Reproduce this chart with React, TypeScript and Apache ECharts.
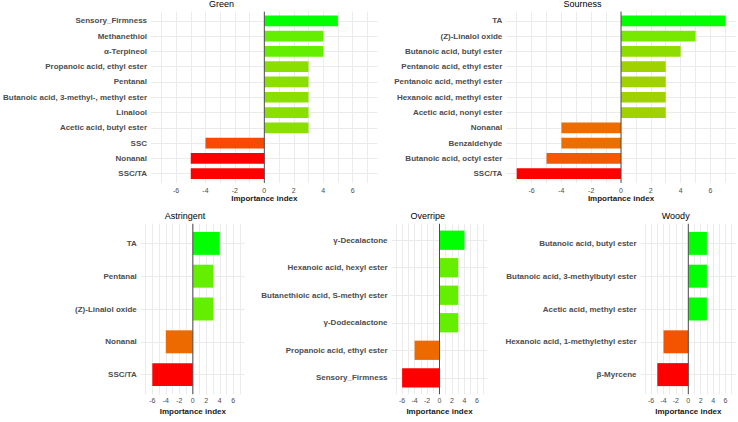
import React, { useEffect, useRef } from 'react';
import * as echarts from 'echarts';

// ---------- data ----------
const greenCats = ['Sensory_Firmness', 'Methanethiol', 'α-Terpineol', 'Propanoic acid, ethyl ester', 'Pentanal', 'Butanoic acid, 3-methyl-, methyl ester', 'Linalool', 'Acetic acid, butyl ester', 'SSC', 'Nonanal', 'SSC/TA'];
const greenVals = [5, 4, 4, 3, 3, 3, 3, 3, -4, -5, -5];

const sournessCats = ['TA', '(Z)-Linalol oxide', 'Butanoic acid, butyl ester', 'Pentanoic acid, ethyl ester', 'Pentanoic acid, methyl ester', 'Hexanoic acid, methyl ester', 'Acetic acid, nonyl ester', 'Nonanal', 'Benzaldehyde', 'Butanoic acid, octyl ester', 'SSC/TA'];
const sournessVals = [7, 5, 4, 3, 3, 3, 3, -4, -4, -5, -7];

const astringentCats = ['TA', 'Pentanal', '(Z)-Linalol oxide', 'Nonanal', 'SSC/TA'];
const astringentVals = [4, 3, 3, -4, -6];

const overripeCats = ['γ-Decalactone', 'Hexanoic acid, hexyl ester', 'Butanethioic acid, S-methyl ester', 'γ-Dodecalactone', 'Propanoic acid, ethyl ester', 'Sensory_Firmness'];
const overripeVals = [4, 3, 3, 3, -4, -6];

const woodyCats = ['Butanoic acid, butyl ester', 'Butanoic acid, 3-methylbutyl ester', 'Acetic acid, methyl ester', 'Hexanoic acid, 1-methylethyl ester', 'β-Myrcene'];
const woodyVals = [3, 3, 3, -4, -5];

const tickLabels = [-6, -4, -2, 0, 2, 4, 6];
const gridBreaks = [-7, -6, -5, -4, -3, -2, -1, 0, 1, 2, 3, 4, 5, 6, 7];
const X_MIN = -7.7;
const X_MAX = 7.7;
const AXIS_TITLE = 'Importance index';

// ---------- colour: ggplot-like Lab interpolation red -> green ----------
const LOW = [255, 0, 0];
const HIGH = [0, 255, 0];
function toLin(c: number) { c /= 255; return c <= 0.04045 ? c / 12.92 : Math.pow((c + 0.055) / 1.055, 2.4); }
function fromLin(c: number) { const v = c <= 0.0031308 ? 12.92 * c : 1.055 * Math.pow(c, 1 / 2.4) - 0.055; return Math.max(0, Math.min(255, Math.round(v * 255))); }
const Xn = 0.95047, Yn = 1, Zn = 1.08883;
const eps = 216 / 24389, kap = 24389 / 27;
function f(t: number) { return t > eps ? Math.cbrt(t) : (kap * t + 16) / 116; }
function finv(t: number) { const t3 = t * t * t; return t3 > eps ? t3 : (116 * t - 16) / kap; }
function rgbToLab(rgb: number[]) {
  const [r, g, b] = rgb.map(toLin);
  const X = 0.4124564 * r + 0.3575761 * g + 0.1804375 * b;
  const Y = 0.2126729 * r + 0.7151522 * g + 0.0721750 * b;
  const Z = 0.0193339 * r + 0.1191920 * g + 0.9503041 * b;
  const fx = f(X / Xn), fy = f(Y / Yn), fz = f(Z / Zn);
  return [116 * fy - 16, 500 * (fx - fy), 200 * (fy - fz)];
}
function labToHex(lab: number[]) {
  const fy = (lab[0] + 16) / 116, fx = fy + lab[1] / 500, fz = fy - lab[2] / 200;
  const X = Xn * finv(fx), Y = Yn * finv(fy), Z = Zn * finv(fz);
  const r = 3.2404542 * X - 1.5371385 * Y - 0.4985314 * Z;
  const g = -0.9692660 * X + 1.8760108 * Y + 0.0415560 * Z;
  const b = 0.0556434 * X - 0.2040259 * Y + 1.0572252 * Z;
  return '#' + [r, g, b].map((c) => fromLin(c).toString(16).padStart(2, '0')).join('');
}
const LAB_LOW = rgbToLab(LOW);
const LAB_HIGH = rgbToLab(HIGH);
function gradient(t: number) {
  return labToHex([0, 1, 2].map((k) => LAB_LOW[k] + (LAB_HIGH[k] - LAB_LOW[k]) * t));
}

// ---------- layout ----------
const FONT = '"Liberation Sans", Arial, Helvetica, sans-serif';
const panels = [
  { title: 'Green', cats: greenCats, vals: greenVals, zero: 262.5, unit: 14.95, top: 11.6, height: 171.3, titleX: 221.5, titleY: 4, nameGap: 12, labelMargin: 4 },
  { title: 'Sourness', cats: sournessCats, vals: sournessVals, zero: 621, unit: 14.9, top: 11.6, height: 171.3, titleX: 582.5, titleY: 4, nameGap: 12, labelMargin: 4 },
  { title: 'Astringent', cats: astringentCats, vals: astringentVals, zero: 192.8, unit: 6.75, top: 223.7, height: 170.6, titleX: 185, titleY: 216, nameGap: 13, labelMargin: 3 },
  { title: 'Overripe', cats: overripeCats, vals: overripeVals, zero: 439.5, unit: 6.23, top: 223.7, height: 170.6, titleX: 427.7, titleY: 216, nameGap: 13, labelMargin: 3 },
  { title: 'Woody', cats: woodyCats, vals: woodyVals, zero: 688.3, unit: 6.2, top: 223.7, height: 170.6, titleX: 675.7, titleY: 216, nameGap: 13, labelMargin: 3 },
];

function buildOption() {
  const grid: any[] = [];
  const xAxis: any[] = [];
  const yAxis: any[] = [];
  const series: any[] = [];
  const graphic: any[] = [];
  const gridColor = '#EBEBEB';

  panels.forEach((p, k) => {
    const n = p.cats.length;
    const idx = p.cats.map((_, i) => i);
    const yMin = -0.6;
    const yMax = n - 0.4;
    grid.push({ left: p.zero + X_MIN * p.unit, width: (X_MAX - X_MIN) * p.unit, top: p.top, height: p.height, containLabel: false });
    xAxis.push({
      gridIndex: k, type: 'value', min: X_MIN, max: X_MAX,
      axisLine: { show: false },
      axisTick: { show: false, customValues: gridBreaks },
      axisLabel: { customValues: tickLabels, fontSize: 7, color: '#4D4D4D', margin: p.labelMargin, fontFamily: FONT },
      splitLine: { show: true, lineStyle: { color: gridColor, width: 1 } },
      name: AXIS_TITLE, nameLocation: 'middle', nameGap: p.nameGap,
      nameTextStyle: { fontSize: 8, fontWeight: 'bold', color: '#1A1A1A', fontFamily: FONT },
    });
    yAxis.push({
      gridIndex: k, type: 'value', inverse: true, min: yMin, max: yMax,
      axisLine: { show: false },
      axisTick: { show: false, customValues: idx },
      axisLabel: {
        customValues: idx, fontSize: 8, fontWeight: 'bold', color: '#4D4D4D', margin: 4, fontFamily: FONT,
        formatter: (v: number) => p.cats[Math.round(v)] ?? '',
      },
      splitLine: { show: true, lineStyle: { color: gridColor, width: 1 } },
    });
    const vmin = Math.min(...p.vals);
    const vmax = Math.max(...p.vals);
    series.push({
      type: 'custom', xAxisIndex: k, yAxisIndex: k, z: 2,
      encode: { x: 0, y: 1 },
      data: p.vals.map((v, i) => [v, i]),
      renderItem: (params: any, api: any) => {
        const v = api.value(0);
        const i = api.value(1);
        const a = api.coord([0, i - 0.35]);
        const b = api.coord([v, i + 0.35]);
        const t = vmax === vmin ? 1 : (v - vmin) / (vmax - vmin);
        return {
          type: 'rect',
          shape: { x: Math.min(a[0], b[0]), y: Math.min(a[1], b[1]), width: Math.abs(b[0] - a[0]), height: Math.abs(b[1] - a[1]) },
          style: { fill: gradient(t) },
        };
      },
    });
    series.push({
      type: 'line', xAxisIndex: k, yAxisIndex: k, z: 5, symbol: 'none', silent: true,
      data: [[0, yMin], [0, yMax]],
      lineStyle: { color: '#4D4D4D', width: 1 },
    });
    graphic.push({
      type: 'text', x: p.titleX, y: p.titleY,
      style: { text: p.title, align: 'center', verticalAlign: 'middle', fontSize: 9, fill: '#000', fontFamily: FONT },
    });
  });

  return {
    animation: false,
    backgroundColor: '#FFFFFF',
    grid, xAxis, yAxis, series, graphic,
  };
}

export default function App() {
  const ref = useRef<HTMLDivElement>(null);
  useEffect(() => {
    if (!ref.current) return;
    const chart = echarts.init(ref.current, undefined, { renderer: 'svg' });
    chart.setOption(buildOption() as any);
    return () => chart.dispose();
  }, []);
  return <div ref={ref} style={{ position: 'fixed', left: 0, top: 0, width: 738, height: 422 }} />;
}
